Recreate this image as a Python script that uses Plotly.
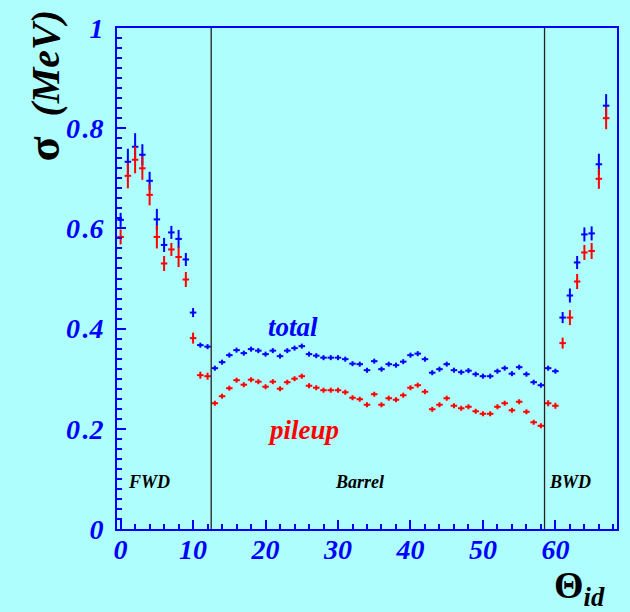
import plotly.graph_objects as go

# Crystal theta-ring index
theta_id = list(range(68))

# Energy resolution (MeV): total noise and pileup component
total = [0.617, 0.733, 0.763, 0.747, 0.695, 0.618, 0.567, 0.592, 0.579, 0.538,
         0.432, 0.367, 0.364,
         0.321, 0.333, 0.347, 0.357, 0.351, 0.359, 0.356, 0.349, 0.356, 0.345,
         0.356, 0.361, 0.365, 0.349, 0.346, 0.342, 0.342, 0.342, 0.339, 0.330,
         0.329, 0.317, 0.335, 0.319, 0.329, 0.327, 0.334, 0.347, 0.350, 0.339,
         0.312, 0.319, 0.329, 0.317, 0.313, 0.316, 0.309, 0.305, 0.305, 0.315,
         0.321, 0.310, 0.323, 0.309, 0.293, 0.287,
         0.321, 0.315, 0.422, 0.466, 0.532, 0.588, 0.590, 0.728, 0.845]
pileup = [0.583, 0.705, 0.737, 0.720, 0.667, 0.583, 0.530, 0.558, 0.543, 0.498,
          0.381, 0.307, 0.305,
          0.251, 0.265, 0.281, 0.297, 0.288, 0.298, 0.294, 0.284, 0.294, 0.280,
          0.293, 0.300, 0.305, 0.286, 0.282, 0.277, 0.277, 0.277, 0.273, 0.262,
          0.259, 0.248, 0.269, 0.248, 0.261, 0.258, 0.267, 0.282, 0.287, 0.274,
          0.239, 0.248, 0.261, 0.246, 0.241, 0.244, 0.235, 0.230, 0.230, 0.244,
          0.251, 0.237, 0.254, 0.234, 0.213, 0.206,
          0.251, 0.246, 0.371, 0.422, 0.494, 0.552, 0.555, 0.699, 0.820]

# Statistical uncertainties
total_err = [0.014, 0.026, 0.027, 0.021, 0.018, 0.021, 0.014, 0.013, 0.018, 0.013,
             0.009, 0.005, 0.005,
             0.005, 0.005, 0.005, 0.005, 0.005, 0.005, 0.005, 0.005, 0.005, 0.005,
             0.005, 0.005, 0.005, 0.005, 0.005, 0.005, 0.005, 0.005, 0.005, 0.005,
             0.005, 0.005, 0.005, 0.005, 0.005, 0.005, 0.005, 0.005, 0.005, 0.005,
             0.005, 0.005, 0.005, 0.005, 0.005, 0.005, 0.005, 0.005, 0.005, 0.005,
             0.005, 0.005, 0.005, 0.005, 0.005, 0.005,
             0.005, 0.005, 0.011, 0.014, 0.013, 0.014, 0.014, 0.021, 0.023]
pileup_err = [0.015, 0.025, 0.027, 0.023, 0.021, 0.023, 0.015, 0.013, 0.020, 0.015,
              0.011, 0.007, 0.007,
              0.005, 0.005, 0.005, 0.005, 0.005, 0.005, 0.005, 0.005, 0.005, 0.005,
              0.005, 0.005, 0.005, 0.005, 0.005, 0.005, 0.005, 0.005, 0.005, 0.005,
              0.005, 0.005, 0.005, 0.005, 0.005, 0.005, 0.005, 0.005, 0.005, 0.005,
              0.005, 0.005, 0.005, 0.005, 0.005, 0.005, 0.005, 0.005, 0.005, 0.005,
              0.005, 0.005, 0.005, 0.005, 0.005, 0.005,
              0.006, 0.006, 0.011, 0.015, 0.015, 0.015, 0.016, 0.020, 0.022]

# Y-axis tick values and their labels
y_tickvals = [0, 0.2, 0.4, 0.6, 0.8, 1]
y_ticktext = ["0", "0\u200a.2", "0\u200a.4", "0\u200a.6", "0\u200a.8", "1"]

# Detector region boundaries and names
boundaries = [12.5, 58.5]
regions = [("FWD", 3.9), ("Barrel", 33.0), ("BWD", 62.0)]

BG = "#affefe"
SERIF = "Liberation Serif"

fig = go.Figure()


def add_series(y, err, color):
    fig.add_trace(go.Scatter(
        x=theta_id, y=y, mode="markers",
        marker=dict(size=1, color=color, opacity=0),
        error_y=dict(type="data", array=err, color=color, thickness=2, width=0),
        error_x=dict(type="constant", value=0.45, color=color, thickness=2, width=0),
        showlegend=False, hoverinfo="skip",
    ))


add_series(total, total_err, "#0000ff")
add_series(pileup, pileup_err, "#ff0000")

for b in boundaries:
    fig.add_shape(type="line", x0=b, x1=b, y0=0, y1=1, xref="x", yref="y",
                  line=dict(color="#222222", width=1.3))

for name, xc in regions:
    fig.add_annotation(x=xc, y=0.094, xref="x", yref="y", text=f"<b><i>{name}</i></b>",
                       showarrow=False, font=dict(family=SERIF, size=18, color="black"))

fig.add_annotation(x=20.0, y=0.404, xref="x", yref="y", text="<b><i>total</i></b>",
                   showarrow=False, xanchor="left", yanchor="middle",
                   font=dict(family=SERIF, size=27, color="#0000ff"))
fig.add_annotation(x=20.0, y=0.198, xref="x", yref="y", text="<b><i>pileup</i></b>",
                   showarrow=False, xanchor="left", yanchor="middle",
                   font=dict(family=SERIF, size=27, color="#ff0000"))

# Axis titles
fig.add_annotation(x=-0.146, y=0.885, xref="paper", yref="paper",
                   xanchor="center", yanchor="middle",
                   text="<b><span style='font-size:46px'>σ</span>  <i>(MeV)</i></b>",
                   textangle=-90, showarrow=False,
                   font=dict(family=SERIF, size=40, color="black"))
fig.add_annotation(x=0.869, y=-0.118, xref="paper", yref="paper",
                   xanchor="left", yanchor="middle",
                   text="<b>Θ<sub><i>id</i></sub></b>", showarrow=False,
                   font=dict(family=SERIF, size=38, color="black"))

tickfont = dict(family=SERIF, size=28, color="#0000ff", weight="bold", style="italic")

fig.update_xaxes(range=[-0.5, 68.5], dtick=10, tick0=0, ticks="inside", ticklen=9,
                 tickwidth=1.5, tickcolor="#0000ff", showline=True, linecolor="#0000ff",
                 linewidth=2, mirror=True, showgrid=False, zeroline=False,
                 tickfont=tickfont, ticklabelstandoff=-6,
                 minor=dict(dtick=2, ticks="inside", ticklen=5, tickcolor="#0000ff",
                            tickwidth=1.5, showgrid=False))
fig.update_yaxes(range=[0, 1], tickmode="array", tickvals=y_tickvals, ticktext=y_ticktext,
                 ticks="inside", ticklen=9,
                 tickwidth=1.5, tickcolor="#0000ff", showline=True, linecolor="#0000ff",
                 linewidth=2, mirror=True, showgrid=False, zeroline=False,
                 tickfont=tickfont, ticklabelstandoff=6,
                 minor=dict(dtick=0.02, tick0=0, ticks="inside", ticklen=5,
                            tickcolor="#0000ff", tickwidth=1.5, showgrid=False))

fig.update_layout(width=630, height=612, margin=dict(l=117, r=11, t=28, b=83),
                  paper_bgcolor=BG, plot_bgcolor=BG)

fig.write_html("out.html")
